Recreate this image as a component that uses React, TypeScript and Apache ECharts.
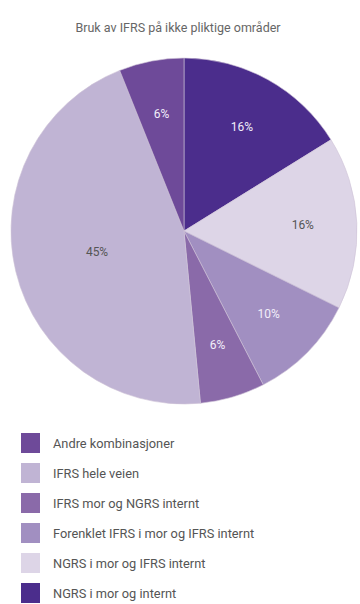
import React, { useEffect, useRef } from "react";
import * as echarts from "echarts";

const title = "Bruk av IFRS på ikke pliktige områder";
const categories = [
  "NGRS i mor og internt",
  "NGRS i mor og IFRS internt",
  "Forenklet IFRS i mor og IFRS internt",
  "IFRS mor og NGRS internt",
  "IFRS hele veien",
  "Andre kombinasjoner",
];
const values = [16, 16, 10, 6, 45, 6];
const colors = ["#4b2d8c", "#ddd5e7", "#a18fc1", "#8a6aa9", "#c0b4d4", "#6e4a99"];
const labelColors = ["#f2eefa", "#555555", "#f2eefa", "#f2eefa", "#555555", "#f2eefa"];
const legendOrder = [
  "Andre kombinasjoner",
  "IFRS hele veien",
  "IFRS mor og NGRS internt",
  "Forenklet IFRS i mor og IFRS internt",
  "NGRS i mor og IFRS internt",
  "NGRS i mor og internt",
];

const FONT = "Roboto, 'Noto Sans', sans-serif";

export default function App() {
  const ref = useRef<HTMLDivElement>(null);
  useEffect(() => {
    if (!ref.current) return;
    const chart = echarts.init(ref.current, undefined, { renderer: "svg" });
    const R = 173;
    const mainData = categories.map((name, i) => ({
      name,
      value: values[i],
      itemStyle: { color: colors[i] },
      label: { show: name === "IFRS hele veien", color: labelColors[i] },
    }));
    const labelData = categories.map((name, i) => ({
      name,
      value: values[i],
      label: { show: name !== "IFRS hele veien", color: labelColors[i] },
    }));
    chart.setOption({
      animation: false,
      title: {
        text: title,
        left: 173,
        textAlign: "center",
        top: 16,
        textStyle: { fontFamily: FONT, fontSize: 12.5, fontWeight: "normal", color: "#666" },
      },
      legend: {
        orient: "vertical",
        left: 21,
        top: 433,
        height: 171,
        padding: 0,
        itemWidth: 19,
        itemHeight: 20,
        itemGap: 10,
        icon: "rect",
        data: legendOrder,
        selectedMode: false,
        itemStyle: { borderWidth: 0 },
        textStyle: { fontFamily: FONT, fontSize: 12.8, color: "#555", padding: [0, 0, 0, 8] },
      },
      series: [
        {
          type: "pie",
          center: [184, 231],
          radius: [0, R],
          startAngle: 90,
          clockwise: true,
          silent: true,
          label: {
            position: "inside",
            formatter: "{c}%",
            fontFamily: FONT,
            fontSize: 12,
          },
          labelLine: { show: false },
          itemStyle: { borderColor: "#cfc3d6", borderWidth: 0.6 },
          data: mainData,
        },
        {
          type: "pie",
          center: [184, 231],
          radius: [0, R * 1.34],
          startAngle: 90,
          clockwise: true,
          silent: true,
          legendHoverLink: false,
          itemStyle: { color: "rgba(0,0,0,0)" },
          label: {
            position: "inside",
            formatter: "{c}%",
            fontFamily: FONT,
            fontSize: 12,
          },
          labelLine: { show: false },
          data: labelData,
        },
      ],
    });
    return () => chart.dispose();
  }, []);
  return (
    <div
      ref={ref}
      style={{ position: "fixed", left: 0, top: 0, width: 360, height: 604, background: "#fff" }}
    />
  );
}
